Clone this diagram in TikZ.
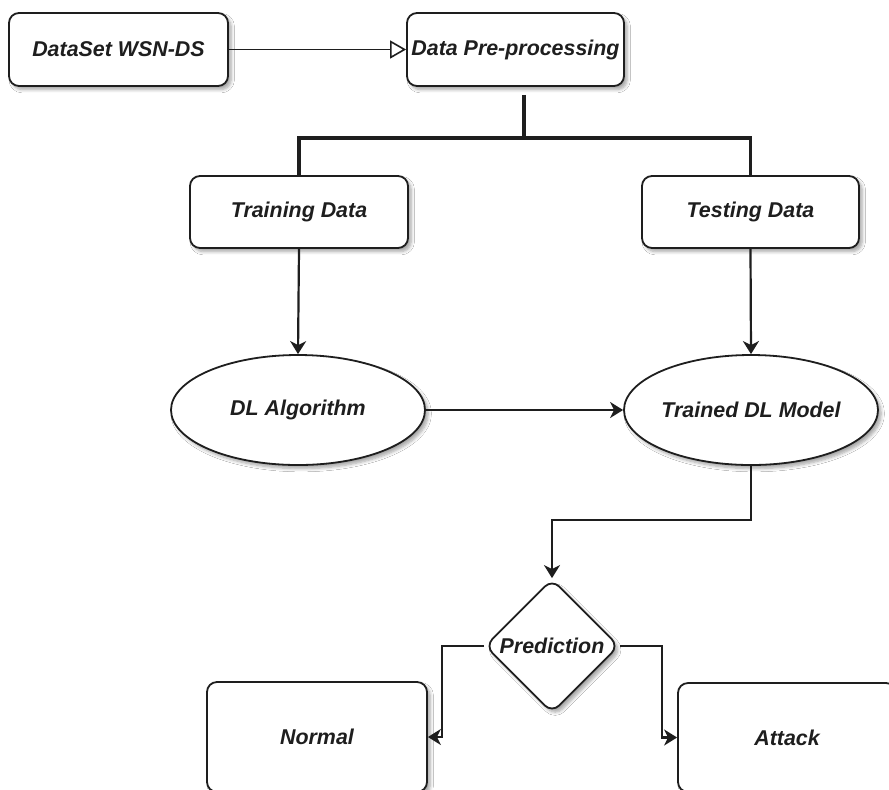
\documentclass[tikz,border=0pt]{standalone}
\usepackage{fontspec}
\setmainfont{Liberation Sans}
\usetikzlibrary{arrows.meta,shapes.geometric,shadows.blur,calc}

\definecolor{ink}{HTML}{1E1E1E}

\begin{document}
\begin{tikzpicture}[x=0.5pt,y=-0.5pt,
  label/.style={font=\bfseries\itshape\fontsize{10.7}{12.5}\selectfont, text=ink},
  shade/.style={blur shadow={shadow xshift=1.6pt, shadow yshift=-1.8pt,
      shadow blur steps=6, shadow blur radius=1.6pt, shadow opacity=35}},
  box/.style={label, shade, draw=ink, line width=0.9pt, fill=white,
      rounded corners=5pt, inner sep=0pt},
  oval/.style={label, shade, draw=ink, line width=0.9pt, fill=white,
      ellipse, inner sep=0pt, minimum width=127pt, minimum height=55pt},
  decision/.style={label, shade, draw=ink, line width=0.9pt, fill=white,
      diamond, aspect=1, rounded corners=5pt, inner sep=0pt, minimum size=67pt},
  link/.style={draw=ink, line width=1.1pt,
      -{Stealth[length=6.5pt, width=8pt, inset=2pt]}},
  openlink/.style={draw=ink, line width=0.8pt,
      -{Triangle[open, length=8pt, width=9pt, fill=white]}},
  trunk/.style={draw=ink, line width=1.7pt}]

  % canvas
  \fill[white] (0,0) rectangle (889,789);
  \useasboundingbox (0,0) rectangle (889,789);

  % process boxes
  \node[box, minimum width=109.5pt, minimum height=36.5pt] (ds)    at (118.5,49.5) {DataSet WSN-DS};
  \node[box, minimum width=108.5pt, minimum height=36.5pt] (pre)   at (515.5,49.5) {Data Pre-processing};
  \node[box, minimum width=109pt,   minimum height=36pt]   (train) at (299,212)    {Training Data};
  \node[box, minimum width=108.5pt, minimum height=36pt]   (test)  at (750.5,212)  {Testing Data};

  % learning stages
  \node[oval] (alg)   at (298,410) {DL Algorithm};
  \node[oval] (model) at (751,410) {Trained DL Model};

  % decision and outcomes
  \node[decision] (pred) at (552,646) {Prediction};
  \node[box, minimum width=110pt, minimum height=55pt]   (normal) at (317,737)   {Normal};
  \node[box, minimum width=109pt, minimum height=54.5pt] (attack) at (787,737.5) {Attack};

  % split point below pre-processing
  \coordinate (split) at (524,138);

  % connectors
  \draw[openlink] (ds.east) -- (pre.west);
  \draw[trunk] ($(pre.south)+(8.5,8)$) -- (split);
  \draw[trunk] (train.north) |- (split) -| (test.north);
  \draw[link] (train.south) -- (alg.north);
  \draw[link] (test.south) -- (model.north);
  \draw[link] (alg.east) -- (model.west);
  \draw[link] (model.south) -- ++(0,54) -| (pred.north);
  \draw[link] (pred.west) -- ++(-42,0) |- (normal.east);
  \draw[link] (pred.east) -- ++(42,0) |- (attack.west);
\end{tikzpicture}
\end{document}
